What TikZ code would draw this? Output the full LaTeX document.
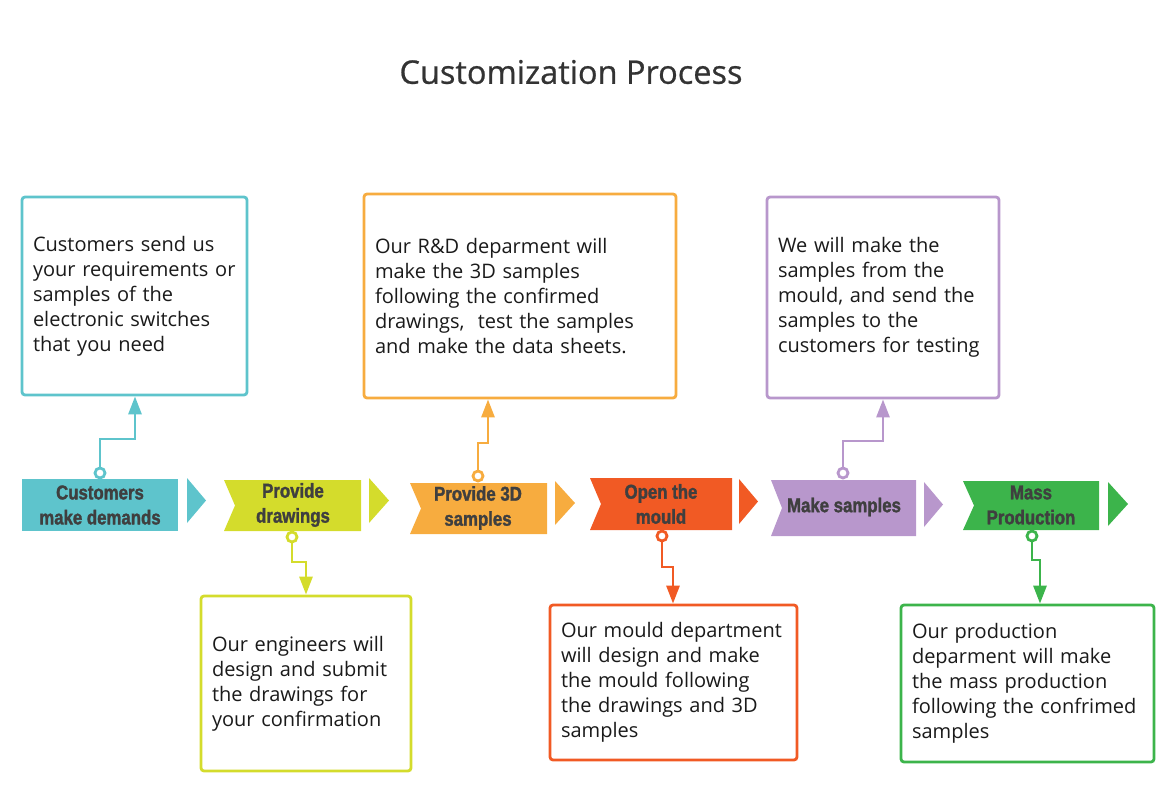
\documentclass[tikz,border=0pt]{standalone}
\usepackage{fontspec}
\setmainfont{Open Sans}
\newfontfamily\titlefont{Open Sans}[FakeBold=0.7]
\newfontfamily\bannerfont{Liberation Sans}[UprightFont=* Bold, FakeStretch=0.84, FakeBold=1.6]
\usetikzlibrary{arrows.meta}
\usepackage{xcolor}
\definecolor{tealstep}{HTML}{5EC4CC}
\definecolor{limestep}{HTML}{D4DC2C}
\definecolor{orangestep}{HTML}{F7AC3F}
\definecolor{redstep}{HTML}{F15A24}
\definecolor{purplestep}{HTML}{B897CC}
\definecolor{greenstep}{HTML}{3CB44B}
\definecolor{labelgray}{HTML}{3F3F3F}
\definecolor{textdark}{HTML}{1A1A1A}
\definecolor{titlegray}{HTML}{333333}

\begin{document}
\begin{tikzpicture}[x=1pt, y=-1pt,
    every node/.style={inner sep=0pt},
    note/.style={draw, line width=2.8pt, rounded corners=3pt, fill=white,
        inner xsep=11pt, align=left, text=textdark,
        font=\fontsize{20}{25}\selectfont},
    steplabel/.style={align=center, text=labelgray,
        font=\bannerfont\fontsize{20}{25}\selectfont},
    linkdot/.style={circle, draw, fill=white, line width=2.8pt, minimum size=10pt},
    linkline/.style={line width=2.8pt, -{Triangle[length=18pt,width=13pt]}},
]
    \useasboundingbox (0,0) rectangle (1176,796);

    \node[font=\titlefont\fontsize{32.5}{38}\selectfont, text=titlegray] (title) at (571,72) {Customization Process};

    \fill[tealstep] (22,479) rectangle (178,531);
    \fill[tealstep] (187,478) -- (206,500.5) -- (187,523) -- cycle;
    \node[steplabel] (s1) at (100,505) {Customers\\make demands};

    \fill[limestep] (224,480) -- (361,480) -- (361,531) -- (224,531) -- (235,505.5) -- cycle;
    \fill[limestep] (369,478) -- (389,500.5) -- (369,523) -- cycle;
    \node[steplabel] (s2) at (293,505) {Provide\\drawings};

    \fill[orangestep] (410,483) -- (547,483) -- (547,534) -- (410,534) -- (421,508.5) -- cycle;
    \fill[orangestep] (555,481) -- (575,503) -- (555,525) -- cycle;
    \node[steplabel] (s3) at (478,508) {Provide 3D\\samples};

    \fill[redstep] (590,478) -- (732,478) -- (732,530) -- (590,530) -- (601,504) -- cycle;
    \fill[redstep] (739,479) -- (758,501.5) -- (739,524) -- cycle;
    \node[steplabel] (s4) at (661,504) {Open the\\mould};

    \fill[purplestep] (771,480) -- (916,480) -- (916,536) -- (771,536) -- (782,508) -- cycle;
    \fill[purplestep] (924,482) -- (943,504.5) -- (924,527) -- cycle;
    \node[steplabel] (s5) at (844,507) {Make samples};

    \fill[greenstep] (963,481) -- (1099,481) -- (1099,530) -- (963,530) -- (974,505.5) -- cycle;
    \fill[greenstep] (1108,482) -- (1128,504) -- (1108,526) -- cycle;
    \node[steplabel] (s6) at (1031,505) {Mass\\Production};

    \node[note, draw=tealstep, minimum width=225pt, minimum height=198pt, text width=203pt] (box1) at (134.5,296)
        {Customers send us\\your requirements or\\samples of the\\electronic switches\\that you need};
    \node[note, draw=limestep, minimum width=210pt, minimum height=175pt, text width=188pt] (box2) at (306,683.5)
        {Our engineers will\\design and submit\\the drawings for\\your confirmation};
    \node[note, draw=orangestep, minimum width=312pt, minimum height=204pt, text width=290pt] (box3) at (520,296)
        {Our R\&D deparment will\\make the 3D samples\\following the confirmed\\drawings,~ test the samples\\and make the data sheets.};
    \node[note, draw=redstep, minimum width=247pt, minimum height=155pt, text width=225pt] (box4) at (673.5,682.5)
        {Our mould department\\will design and make\\the mould following\\the drawings and 3D\\samples};
    \node[note, draw=purplestep, minimum width=232pt, minimum height=201pt, text width=210pt] (box5) at (883,297.5)
        {We will make the\\samples from the\\mould, and send the\\samples to the\\customers for testing};
    \node[note, draw=greenstep, minimum width=253pt, minimum height=157pt, text width=231pt] (box6) at (1027.5,683.5)
        {Our production\\deparment will make\\the mass production\\following the confrimed\\samples};

    \node[linkdot, draw=tealstep] (d1) at (100,473) {};
    \node[linkdot, draw=limestep] (d2) at (292,537) {};
    \node[linkdot, draw=orangestep] (d3) at (478,476) {};
    \node[linkdot, draw=redstep] (d4) at (662,536) {};
    \node[linkdot, draw=purplestep] (d5) at (843,473) {};
    \node[linkdot, draw=greenstep] (d6) at (1032,536) {};

    \coordinate (k1) at (135,439);
    \coordinate (k2) at (306,562);
    \coordinate (k3) at (488,443);
    \coordinate (k4) at (673,567);
    \coordinate (k5) at (883,441);
    \coordinate (k6) at (1040,560);

    \draw[linkline, tealstep] (d1) |- (k1) -- (k1 |- box1.south);
    \draw[linkline, limestep] (d2) |- (k2) -- (k2 |- box2.north);
    \draw[linkline, orangestep] (d3) |- (k3) -- (k3 |- box3.south);
    \draw[linkline, redstep] (d4) |- (k4) -- (k4 |- box4.north);
    \draw[linkline, purplestep] (d5) |- (k5) -- (k5 |- box5.south);
    \draw[linkline, greenstep] (d6) |- (k6) -- (k6 |- box6.north);
\end{tikzpicture}
\end{document}
